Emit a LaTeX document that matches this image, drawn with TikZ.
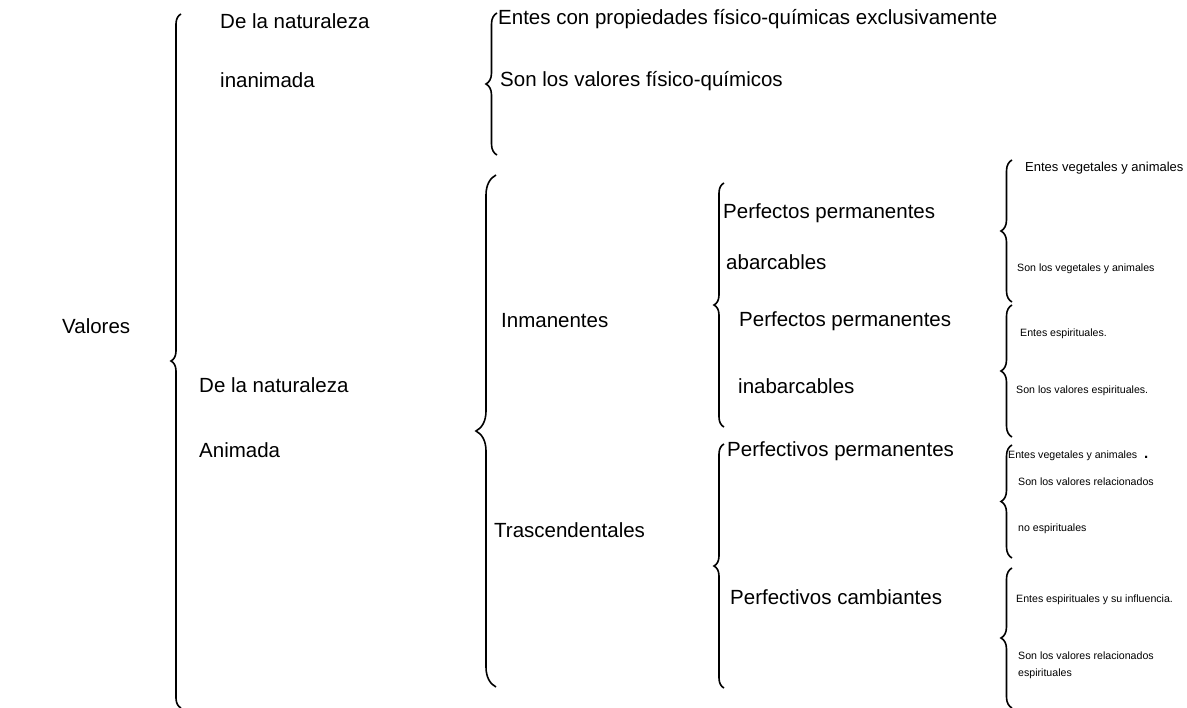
\documentclass[tikz,border=0pt]{standalone}
\usepackage{fontspec}
\setmainfont{Liberation Sans}
\usepackage{tikz}
\usetikzlibrary{decorations.pathreplacing}

\begin{document}
\begin{tikzpicture}[x=1pt, y=-1pt,
  texto/.style={anchor=base west, inner sep=0pt, font=\fontsize{20.5}{24}\selectfont},
  chico/.style={anchor=base west, inner sep=0pt, font=\fontsize{10.6}{13}\selectfont},
  llave/.style={decorate, decoration={brace, amplitude=#1}, line width=1.6pt},
  llave/.default=10pt]
\useasboundingbox (0,0) rectangle (1187,708);

% First column
\node[texto] (valores) at (62,334) {Valores};

% Second column
\node[texto] (nat1) at (220,29) {De la naturaleza};
\node[texto] (inan) at (220,88) {inanimada};
\node[texto] (nat2) at (199,393) {De la naturaleza};
\node[texto] (anim) at (199,458) {Animada};

% Third column
\node[texto] (entesfq) at (498,25) {Entes con propiedades físico-químicas exclusivamente};
\node[texto] (sonfq) at (500,87) {Son los valores físico-químicos};
\node[texto] (inman) at (501,328) {Inmanentes};
\node[texto] (trasc) at (494,538) {Trascendentales};

% Fourth column
\node[texto] (ppa) at (723,219) {Perfectos permanentes};
\node[texto] (abarc) at (726,270) {abarcables};
\node[texto] (ppi) at (739,327) {Perfectos permanentes};
\node[texto] (inabarc) at (738,394) {inabarcables};
\node[texto] (pvp) at (727,457) {Perfectivos permanentes};
\node[texto] (pvc) at (730,604) {Perfectivos cambiantes};

% Fifth column, small text
\node[chico, font=\fontsize{13}{16}\selectfont] (eva) at (1025,172) {Entes vegetales y animales};
\node[chico] (sva) at (1017,272) {Son los vegetales y animales};
\node[chico] (eesp) at (1020,337) {Entes espirituales.};
\node[chico] (svesp) at (1016,394) {Son los valores espirituales.};
\node[chico] (evb) at (1008,459) {Entes vegetales y animales\hspace{7pt}{\fontsize{15}{15}\selectfont\bfseries .}};
\node[chico] (svra) at (1018,486) {Son los valores relacionados};
\node[chico] (noesp) at (1018,532) {no espirituales};
\node[chico] (eesi) at (1016,602) {Entes espirituales y su influencia.};
\node[chico] (svrb) at (1018,659) {Son los valores relacionados};
\node[chico] (espb) at (1018,676) {espirituales};

% Braces, bottom end to top end
\coordinate (l1a) at (181,708); \coordinate (l1b) at (181,14);
\coordinate (l2a) at (497,155); \coordinate (l2b) at (497,13);
\coordinate (l3a) at (496,687); \coordinate (l3b) at (496,175);
\coordinate (l4a) at (724,427); \coordinate (l4b) at (724,183);
\coordinate (l5a) at (724,688); \coordinate (l5b) at (724,444);
\coordinate (l6a) at (1012,302); \coordinate (l6b) at (1012,160);
\coordinate (l7a) at (1012,437); \coordinate (l7b) at (1012,305);
\coordinate (l8a) at (1012,558); \coordinate (l8b) at (1012,445);
\coordinate (l9a) at (1012,708); \coordinate (l9b) at (1012,568);

\draw[llave] (l1a) -- (l1b);
\draw[llave=11pt] (l2a) -- (l2b);
\draw[llave=20pt] (l3a) -- (l3b);
\draw[llave] (l4a) -- (l4b);
\draw[llave] (l5a) -- (l5b);
\draw[llave=11pt] (l6a) -- (l6b);
\draw[llave=11pt] (l7a) -- (l7b);
\draw[llave=11pt] (l8a) -- (l8b);
\draw[llave=11pt] (l9a) -- (l9b);
\end{tikzpicture}
\end{document}
